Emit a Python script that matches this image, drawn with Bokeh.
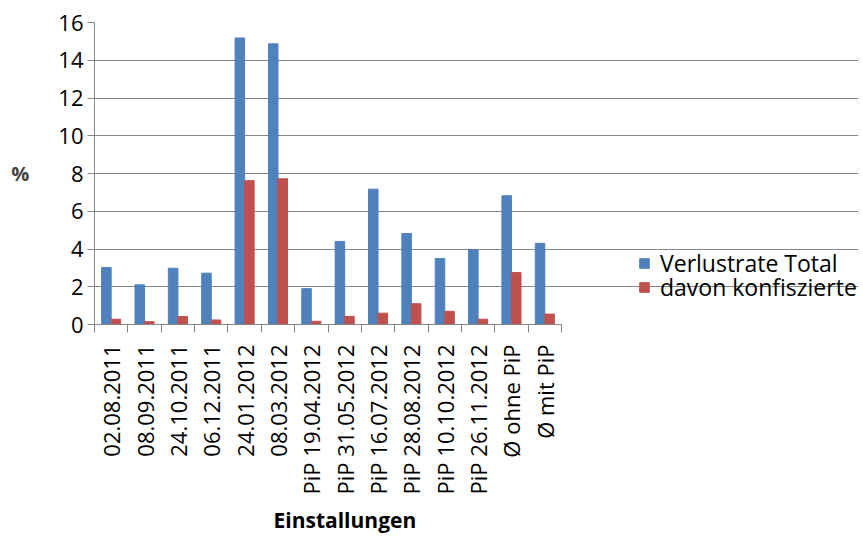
import math
from bokeh.plotting import figure
from bokeh.models import ColumnDataSource, Range1d, FixedTicker, Legend, LegendItem, Title
from bokeh.transform import dodge
from bokeh.embed import file_html
from bokeh.resources import INLINE

categories = ["02.08.2011", "08.09.2011", "24.10.2011", "06.12.2011", "24.01.2012",
              "08.03.2012", "PiP 19.04.2012", "PiP 31.05.2012", "PiP 16.07.2012",
              "PiP 28.08.2012", "PiP 10.10.2012", "PiP 26.11.2012", "Ø ohne PiP", "Ø mit PiP"]
verlustrate_total = [3.02, 2.10, 2.98, 2.72, 15.18, 14.87, 1.90, 4.40, 7.17, 4.82, 3.50, 3.97, 6.82, 4.30]
davon_konfisziert = [0.28, 0.15, 0.42, 0.24, 7.62, 7.72, 0.17, 0.43, 0.60, 1.10, 0.70, 0.28, 2.75, 0.55]
series_names = ["Verlustrate Total", "davon konfiszierte"]
y_ticks = [0, 2, 4, 6, 8, 10, 12, 14, 16]

BLUE = "#4F81BD"
RED = "#C0504D"
GRID = "#878787"
FONT = "Open Sans"

n = len(categories)
idx = list(range(n))
source = ColumnDataSource(dict(x=idx, total=verlustrate_total, konf=davon_konfisziert))

# layout: the chart area (467 px) holds the categories; the frame extends to the right
# so that the legend can sit inside it
W, H = 863, 540
left, top, right, bottom = 94, 22, 5, 216
frame_w = W - left - right
plot_w = 467
x_end = -0.5 + n * frame_w / plot_w

p = figure(width=W, height=H, output_backend="svg", toolbar_location=None,
           x_range=Range1d(-0.5, x_end), y_range=Range1d(0, 16),
           min_border_left=left, min_border_top=top, min_border_right=right,
           min_border_bottom=bottom)
p.outline_line_color = None
p.background_fill_color = "white"
p.border_fill_color = "white"

bw = 0.286
r1 = p.vbar(x=dodge("x", -bw / 2), top="total", width=bw, source=source,
            fill_color=BLUE, line_color=BLUE)
r2 = p.vbar(x=dodge("x", bw / 2), top="konf", width=bw, source=source,
            fill_color=RED, line_color=RED)

# y axis
yax = p.yaxis[0]
yax.ticker = FixedTicker(ticks=y_ticks)
yax.axis_line_color = GRID
yax.major_tick_line_color = GRID
yax.major_tick_out = 7
yax.major_tick_in = 0
yax.minor_tick_line_color = None
yax.major_label_text_font = FONT
yax.major_label_text_font_size = "22px"
yax.major_label_text_color = "black"
yax.major_label_standoff = 4
yax.axis_label = "%"
yax.axis_label_orientation = "horizontal"
yax.axis_label_text_font = FONT
yax.axis_label_text_font_style = "bold"
yax.axis_label_text_font_size = "20px"
yax.axis_label_standoff = 26

# x axis: labels at centres, tick marks between categories
xax = p.xaxis[0]
xax.bounds = (-0.5, n - 0.5)
xax.ticker = FixedTicker(ticks=idx, minor_ticks=[i - 0.5 for i in range(n + 1)])
xax.major_label_overrides = {i: c for i, c in enumerate(categories)}
xax.major_label_orientation = math.pi / 2
xax.axis_line_color = GRID
xax.major_tick_line_color = None
xax.major_tick_out = 0
xax.major_tick_in = 0
xax.minor_tick_line_color = GRID
xax.minor_tick_out = 8
xax.minor_tick_in = 0
xax.major_label_text_font = FONT
xax.major_label_text_font_size = "22px"
xax.major_label_text_color = "black"
xax.major_label_standoff = 12

p.xgrid.grid_line_color = None
p.ygrid.grid_line_color = GRID
p.ygrid.grid_line_width = 1
p.ygrid.bounds = (-0.5, n - 0.5)

xtitle = Title(text="Einstallungen", align="left", offset=179, standoff=13,
               text_font=FONT, text_font_style="bold", text_font_size="21px",
               text_color="black")
p.add_layout(xtitle, "below")

renderers = [r1, r2]
legend_y = [45, 21]
for name, rend, ly in zip(series_names, renderers, legend_y):
    legend = Legend(items=[LegendItem(label=name, renderers=[rend])],
                    location=(544, ly), orientation="vertical")
    legend.border_line_color = None
    legend.background_fill_alpha = 0
    legend.glyph_width = 12
    legend.glyph_height = 12
    legend.label_standoff = 10
    legend.padding = 10
    legend.margin = 0
    legend.label_text_font = FONT
    legend.label_text_font_size = "23px"
    legend.label_text_color = "black"
    legend.label_height = 24
    p.add_layout(legend, "center")

open("out.html", "w").write(file_html(p, INLINE))
